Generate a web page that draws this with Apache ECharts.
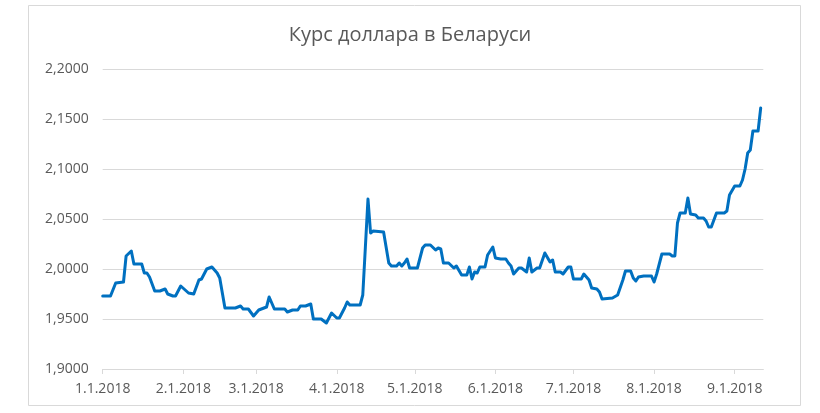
<!DOCTYPE html>
<html>
<head>
<meta charset="utf-8">
<script src="https://cdn.jsdelivr.net/npm/echarts@6/dist/echarts.min.js"></script>
<style>
html,body{margin:0;padding:0;background:#fff;}
#chart{width:820px;height:413px;}
</style>
</head>
<body>
<div id="chart"></div>
<script>
const titleText = 'Курс доллара в Беларуси';
const dates = [
'2018-01-01','2018-01-04','2018-01-06','2018-01-09','2018-01-10','2018-01-12','2018-01-13','2018-01-16','2018-01-17','2018-01-18',
'2018-01-19','2018-01-21','2018-01-23','2018-01-25','2018-01-26','2018-01-28','2018-01-29','2018-01-31','2018-02-03','2018-02-05',
'2018-02-07','2018-02-08','2018-02-10','2018-02-12','2018-02-14','2018-02-15','2018-02-16','2018-02-17','2018-02-21','2018-02-23',
'2018-02-24','2018-02-26','2018-02-28','2018-03-02','2018-03-05','2018-03-06','2018-03-08','2018-03-12','2018-03-13','2018-03-15',
'2018-03-17','2018-03-18','2018-03-20','2018-03-22','2018-03-23','2018-03-26','2018-03-28','2018-03-30','2018-04-01','2018-04-02',
'2018-04-04','2018-04-05','2018-04-06','2018-04-10','2018-04-11','2018-04-12','2018-04-13','2018-04-14','2018-04-15','2018-04-19',
'2018-04-21','2018-04-22','2018-04-24','2018-04-25','2018-04-26','2018-04-27','2018-04-28','2018-04-29','2018-05-02','2018-05-04',
'2018-05-05','2018-05-07','2018-05-09','2018-05-10','2018-05-11','2018-05-12','2018-05-14','2018-05-16','2018-05-17','2018-05-19',
'2018-05-21','2018-05-22','2018-05-23','2018-05-24','2018-05-25','2018-05-26','2018-05-28','2018-05-29','2018-05-31','2018-06-01',
'2018-06-03','2018-06-05','2018-06-06','2018-06-07','2018-06-08','2018-06-10','2018-06-11','2018-06-13','2018-06-14','2018-06-15',
'2018-06-17','2018-06-18','2018-06-20','2018-06-22','2018-06-23','2018-06-24','2018-06-26','2018-06-27','2018-06-29','2018-06-30',
'2018-07-01','2018-07-04','2018-07-05','2018-07-07','2018-07-08','2018-07-10','2018-07-11','2018-07-12','2018-07-16','2018-07-18',
'2018-07-20','2018-07-21','2018-07-23','2018-07-24','2018-07-25','2018-07-26','2018-07-28','2018-07-31','2018-08-01','2018-08-02',
'2018-08-04','2018-08-07','2018-08-08','2018-08-09','2018-08-10','2018-08-11','2018-08-13','2018-08-14','2018-08-15','2018-08-17',
'2018-08-18','2018-08-20','2018-08-21','2018-08-22','2018-08-23','2018-08-25','2018-08-28','2018-08-29','2018-08-30','2018-09-01',
'2018-09-03','2018-09-04','2018-09-05','2018-09-06','2018-09-07','2018-09-08','2018-09-10','2018-09-11'
];
const rates = [
1.973,1.973,1.986,1.987,2.013,2.018,2.005,2.005,1.996,1.996,
1.992,1.978,1.978,1.980,1.975,1.973,1.973,1.983,1.976,1.975,
1.989,1.990,2.000,2.002,1.996,1.991,1.976,1.961,1.961,1.963,
1.960,1.960,1.953,1.959,1.962,1.972,1.960,1.960,1.957,1.959,
1.959,1.963,1.963,1.965,1.950,1.950,1.946,1.956,1.951,1.951,
1.961,1.967,1.964,1.964,1.974,2.022,2.070,2.036,2.038,2.037,
2.006,2.003,2.003,2.006,2.003,2.006,2.010,2.001,2.001,2.021,
2.024,2.024,2.019,2.021,2.020,2.006,2.006,2.001,2.003,1.994,
1.994,2.002,1.990,1.997,1.996,2.002,2.002,2.014,2.022,2.011,
2.010,2.010,2.006,2.003,1.995,2.001,2.001,1.997,2.011,1.997,
2.001,2.001,2.016,2.007,2.009,1.997,1.997,1.995,2.002,2.002,
1.990,1.990,1.995,1.989,1.981,1.980,1.977,1.970,1.971,1.974,
1.989,1.998,1.998,1.991,1.988,1.992,1.993,1.993,1.987,1.995,
2.015,2.015,2.013,2.013,2.046,2.056,2.056,2.071,2.055,2.054,
2.051,2.051,2.048,2.042,2.042,2.056,2.056,2.058,2.074,2.083,
2.083,2.089,2.100,2.116,2.119,2.138,2.138,2.161
];
const monthTicks = ['2018-01-01','2018-02-01','2018-03-01','2018-04-01','2018-05-01','2018-06-01','2018-07-01','2018-08-01','2018-09-01'];
const tickLabels = ['1.1.2018','2.1.2018','3.1.2018','4.1.2018','5.1.2018','6.1.2018','7.1.2018','8.1.2018','9.1.2018'];
const axisStart = '2018-01-01';
const axisEnd = '2018-09-12';

function toTs(s){ const p = s.split('-'); return Date.UTC(+p[0], +p[1]-1, +p[2]); }
const tickTs = monthTicks.map(toTs);
const seriesData = dates.map((d,i)=>[toTs(d), rates[i]]);

const chart = echarts.init(document.getElementById('chart'), null, {renderer:'canvas'});
const font = '"Open Sans", sans-serif';
chart.setOption({
  animation:false,
  backgroundColor:'#fff',
  graphic:[{type:'rect', shape:{x:28.5,y:5.5,width:772,height:400}, style:{fill:'none', stroke:'#d9d9d9', lineWidth:1}, silent:true}],
  title:{text:titleText, left:'center', top:20, textStyle:{fontFamily:font, fontSize:20, fontWeight:'normal', color:'#595959'}},
  grid:{left:102.7, right:56.7, top:69, bottom:44},
  xAxis:{
    type:'value', min:toTs(axisStart), max:toTs(axisEnd), scale:true,
    axisLine:{show:true, lineStyle:{color:'#d9d9d9', width:1}},
    axisTick:{show:true, customValues:tickTs, length:5, lineStyle:{color:'#d9d9d9'}},
    axisLabel:{customValues:tickTs, margin:13, fontFamily:font, fontSize:14, color:'#595959',
      formatter:function(v){ const i = tickTs.indexOf(v); return i>=0 ? tickLabels[i] : ''; }},
    splitLine:{show:false}
  },
  yAxis:{
    type:'value', min:1.9, max:2.2, interval:0.05,
    axisLine:{show:false}, axisTick:{show:false},
    axisLabel:{margin:14, fontFamily:font, fontSize:14, color:'#595959',
      formatter:function(v){ return v.toFixed(4).replace('.',','); }},
    splitLine:{lineStyle:{color:'#d9d9d9', width:1}}
  },
  series:[{type:'line', data:seriesData, showSymbol:false, symbol:'none',
    lineStyle:{color:'#0070c0', width:3, join:'round', cap:'round'}, silent:true}]
});
</script>
</body>
</html>
